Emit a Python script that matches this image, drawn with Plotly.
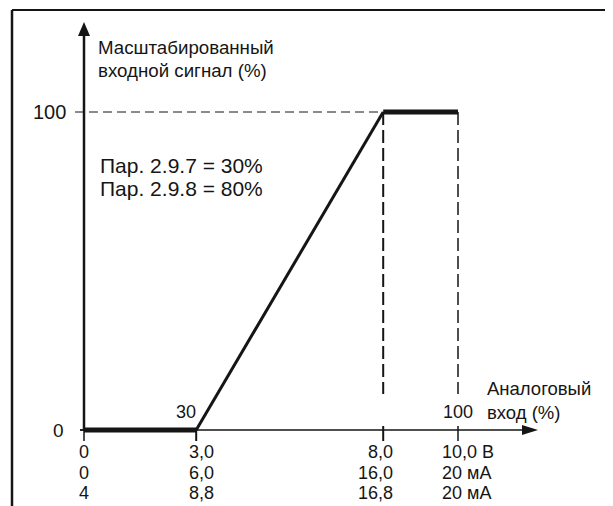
import plotly.graph_objects as go

# ---- data ----
x_points = [0, 30, 80, 100]          # analog input (%)
y_points = [0, 0, 100, 100]          # scaled input signal (%)
param_min = 30
param_max = 80
x_ticks = [0, 30, 80, 100]
row_volt = ["0", "3,0", "8,0", "10,0 В"]
row_ma0 = ["0", "6,0", "16,0", "20 мА"]
row_ma4 = ["4", "8,8", "16,8", "20 мА"]
y_ticks = [0, 100]
y_tick_labels = ["0", "100"]
y_title = ["Масштабированный", "входной сигнал (%)"]
x_title = ["Аналоговый", "вход (%)"]
param_text = ["Пар. 2.9.7 = 30%", "Пар. 2.9.8 = 80%"]

# ---- layout geometry (page-pixel mapping) ----
W, H = 613, 506           # page / window size
OFF = 8                   # default body margin of the html page
FW, FH = W - OFF, H - OFF # figure size
PX0, PX100 = 84, 458      # page pixel of x=0 and x=100
PY0, PY100 = 430, 112     # page pixel of y=0 and y=100
sx = (PX100 - PX0) / 100.0
sy = (PY0 - PY100) / 100.0

def X(px):
    return (px - PX0) / sx

def Y(py):
    return (PY0 - py) / sy

xr = [X(OFF), X(W)]
yr = [Y(H), Y(OFF)]

def PXp(px):
    return (px - OFF) / FW

def PYp(py):
    return 1 - (py - OFF) / FH

INK = "#151515"
FONT = "Liberation Sans, Arial, sans-serif"

fig = go.Figure()

# signal curve: flat segments thick, slope thinner
fig.add_trace(go.Scatter(x=x_points[0:2], y=y_points[0:2], mode="lines",
                         line=dict(color=INK, width=5), hoverinfo="skip"))
fig.add_trace(go.Scatter(x=x_points[1:3], y=y_points[1:3], mode="lines",
                         line=dict(color=INK, width=3), hoverinfo="skip"))
fig.add_trace(go.Scatter(x=x_points[2:4], y=y_points[2:4], mode="lines",
                         line=dict(color=INK, width=5), hoverinfo="skip"))

shapes = []
# frame
shapes.append(dict(type="line", xref="paper", yref="paper", x0=PXp(12), x1=1.0,
                   y0=PYp(10), y1=PYp(10), line=dict(color=INK, width=2)))
shapes.append(dict(type="line", xref="paper", yref="paper", x0=PXp(12), x1=PXp(12),
                   y0=PYp(10), y1=0, line=dict(color=INK, width=2.5)))
# y axis + arrow
shapes.append(dict(type="line", x0=0, x1=0, y0=0, y1=Y(30), layer="below",
                   line=dict(color=INK, width=2.5)))
shapes.append(dict(type="path", xref="x", yref="y", xsizemode="pixel", ysizemode="pixel",
                   xanchor=0, yanchor=Y(22), path="M0,0 L-6,-14 L6,-14 Z",
                   fillcolor=INK, line=dict(width=0)))
# x axis + arrow
shapes.append(dict(type="line", x0=X(80), x1=X(528), y0=0, y1=0, layer="below",
                   line=dict(color=INK, width=1.5)))
shapes.append(dict(type="path", xref="x", yref="y", xsizemode="pixel", ysizemode="pixel",
                   xanchor=X(538), yanchor=0, path="M0,0 L-16,-5 L-16,5 Z",
                   fillcolor=INK, line=dict(width=0)))
# x ticks
for t in x_ticks:
    top = Y(430) if t in (0, 30) else Y(426)
    w = 2 if t in (30, 80) else 1.5
    shapes.append(dict(type="line", x0=t, x1=t, y0=top, y1=Y(441), layer="below",
                       line=dict(color=INK, width=w)))
# y tick at 0
shapes.append(dict(type="line", x0=X(80), x1=0, y0=0, y1=0, layer="below",
                   line=dict(color=INK, width=1.5)))
# dashed guides
shapes.append(dict(type="line", x0=X(75), x1=param_max, y0=100, y1=100, layer="below",
                   line=dict(color=INK, width=1, dash="9px,5px")))
shapes.append(dict(type="line", x0=param_max, x1=param_max, y0=100, y1=Y(394), layer="below",
                   line=dict(color=INK, width=2, dash="13px,5px")))
shapes.append(dict(type="line", x0=100, x1=100, y0=100, y1=Y(394), layer="below",
                   line=dict(color=INK, width=1.5, dash="13px,5px")))

ann = []

def txt(text, px, py, size, xanchor="left"):
    ann.append(dict(text=text, x=X(px), y=Y(py), xref="x", yref="y", showarrow=False,
                    xanchor=xanchor, yanchor="middle",
                    font=dict(family=FONT, size=size, color=INK)))

txt(y_title[0], 96, 47, 18.7)
txt(y_title[1], 96, 70, 18.7)
txt(param_text[0], 98, 165, 21)
txt(param_text[1], 98, 188, 21)
txt(x_title[0], 485, 388, 18.5)
txt(x_title[1], 485, 412, 18.5)
txt(str(param_min), 198, 412, 18, "right")
txt("100", PX100, 412, 18, "center")
# y tick labels
txt(y_tick_labels[0], 66, PY0, 19, "right")
txt(y_tick_labels[1], 68, PY100, 20, "right")

# bottom tick label rows
col_anchor = ["center", "center", "right", "left"]
col_shift = [0, 5, 12, -18]
for rows, py in ((row_volt, 452), (row_ma0, 473), (row_ma4, 493)):
    for i, t in enumerate(x_ticks):
        ann.append(dict(text=rows[i], x=t, y=Y(py), xref="x", yref="y", showarrow=False,
                        xanchor=col_anchor[i], yanchor="middle", xshift=col_shift[i],
                        font=dict(family=FONT, size=18, color=INK)))

fig.update_layout(
    width=FW, height=FH,
    margin=dict(l=0, r=0, t=0, b=0),
    paper_bgcolor="white", plot_bgcolor="white",
    showlegend=False,
    xaxis=dict(range=xr, visible=False, fixedrange=True),
    yaxis=dict(range=yr, visible=False, fixedrange=True),
    shapes=shapes, annotations=ann,
)

fig.write_html("out.html")
